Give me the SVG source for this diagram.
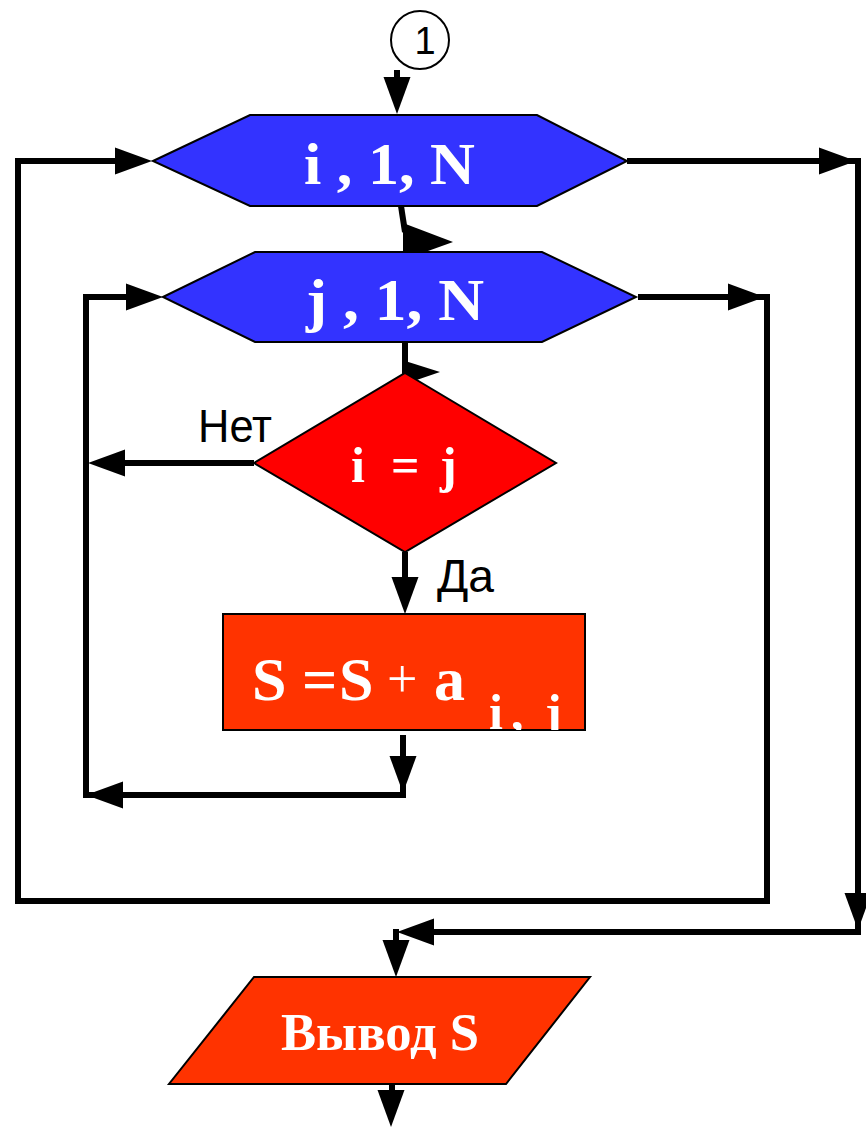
<svg xmlns="http://www.w3.org/2000/svg" width="866" height="1131" viewBox="0 0 866 1131">
<style>
.con{fill:none;stroke:#000;stroke-width:6;stroke-linejoin:miter}
.ah{fill:#000;stroke:none}
.hex{fill:#3333FF;stroke:#000;stroke-width:2}
.dia{fill:#FF0000;stroke:#000;stroke-width:2}
.proc{fill:#FF3300;stroke:#000;stroke-width:2}
.wt{fill:#fff;font-family:"Liberation Serif","Times New Roman",serif;font-weight:bold}
.lbl{fill:#000;font-family:"Liberation Sans",Arial,sans-serif}
</style>
<defs>
<path id="ah" d="M0,0 L-37,-13.5 L-37,13.5 Z"/>
<clipPath id="rclip"><rect x="222" y="612" width="365" height="118"/></clipPath>
</defs>

<g id="connectors">
  <!-- connector 1 -> loop i -->
  <line class="con" x1="397" y1="70" x2="397" y2="82"/>
  <use href="#ah" class="ah" transform="translate(397,114) rotate(90)"/>
  <!-- loop i -> loop j -->
  <line class="con" x1="401" y1="206" x2="405" y2="232"/>
  <polygon class="ah" points="403,223 453,242 403,260"/>
  <!-- loop j -> decision -->
  <line class="con" x1="405" y1="342" x2="405" y2="364"/>
  <polygon class="ah" points="402,360 440,372 402,385"/>
  <!-- outer loop return -->
  <polyline class="con" points="638,297 767,297 767,901 18,901 18,161 120,161"/>
  <use href="#ah" class="ah" transform="translate(765,297)"/>
  <use href="#ah" class="ah" transform="translate(152,161)"/>
  <!-- loop i exit -->
  <polyline class="con" points="627,161 858,161 858,932 430,932"/>
  <use href="#ah" class="ah" transform="translate(856,161)"/>
  <use href="#ah" class="ah" transform="translate(858,930) rotate(90)"/>
  <use href="#ah" class="ah" transform="translate(397,932) rotate(180)"/>
  <line class="con" x1="396" y1="929" x2="396" y2="944"/>
  <use href="#ah" class="ah" transform="translate(396,977) rotate(90)"/>
  <!-- Нет branch -->
  <line class="con" x1="254" y1="463" x2="120" y2="463"/>
  <use href="#ah" class="ah" transform="translate(88,463) rotate(180)"/>
  <!-- inner loop -->
  <polyline class="con" points="403,735 403,795 86,795 86,297 135,297"/>
  <use href="#ah" class="ah" transform="translate(403,793) rotate(90)"/>
  <use href="#ah" class="ah" transform="translate(86,795) rotate(180)"/>
  <use href="#ah" class="ah" transform="translate(163,297)"/>
  <!-- Да branch -->
  <line class="con" x1="405" y1="552" x2="405" y2="585"/>
  <use href="#ah" class="ah" transform="translate(405,614) rotate(90)"/>
  <!-- output exit -->
  <line class="con" x1="392" y1="1084" x2="392" y2="1095"/>
  <use href="#ah" class="ah" transform="translate(391,1127) rotate(90)"/>
  <text class="lbl" x="198" y="442" font-size="47" textLength="74" lengthAdjust="spacingAndGlyphs">Нет</text>
  <text class="lbl" x="437" y="592" font-size="47" textLength="57" lengthAdjust="spacingAndGlyphs">Да</text>
</g>

<g id="connector-1">
  <ellipse cx="420" cy="40" rx="29" ry="29" fill="#fff" stroke="#000" stroke-width="2"/>
  <text class="lbl" x="425" y="54" font-size="38" text-anchor="middle">1</text>
</g>

<g id="loop-i">
  <polygon class="hex" points="153,161 250,115 537,115 627,161 537,206 250,206"/>
  <text class="wt" x="304" y="184" font-size="60" textLength="171" lengthAdjust="spacingAndGlyphs">i , 1, N</text>
</g>

<g id="loop-j">
  <polygon class="hex" points="163,297 255,252 542,252 636,297 542,342 255,342"/>
  <text class="wt" x="306" y="320" font-size="60" textLength="178" lengthAdjust="spacingAndGlyphs">j , 1, N</text>
</g>

<g id="decision">
  <polygon class="dia" points="405,373 556,463 405,552 254,463"/>
  <text class="wt" font-size="50" y="482"><tspan x="351">i</tspan><tspan x="391">=</tspan><tspan x="440">j</tspan></text>
</g>

<g id="sum">
  <rect class="proc" x="223" y="614" width="362" height="116"/>
  <text class="wt" font-size="62" y="700"><tspan x="252">S</tspan><tspan x="302">=</tspan><tspan x="339">S</tspan><tspan x="387" font-size="54" font-weight="normal" dy="-3">+</tspan><tspan x="434" dy="3">a</tspan></text>
  <text class="wt" font-size="50" y="729" clip-path="url(#rclip)"><tspan x="489">i</tspan><tspan x="511">,</tspan><tspan x="545">j</tspan></text>
</g>

<g id="output">
  <polygon class="proc" points="254,977 590,977 506,1084 169,1084"/>
  <text class="wt" x="281" y="1050" font-size="52" textLength="198" lengthAdjust="spacingAndGlyphs">Вывод S</text>
</g>
</svg>
